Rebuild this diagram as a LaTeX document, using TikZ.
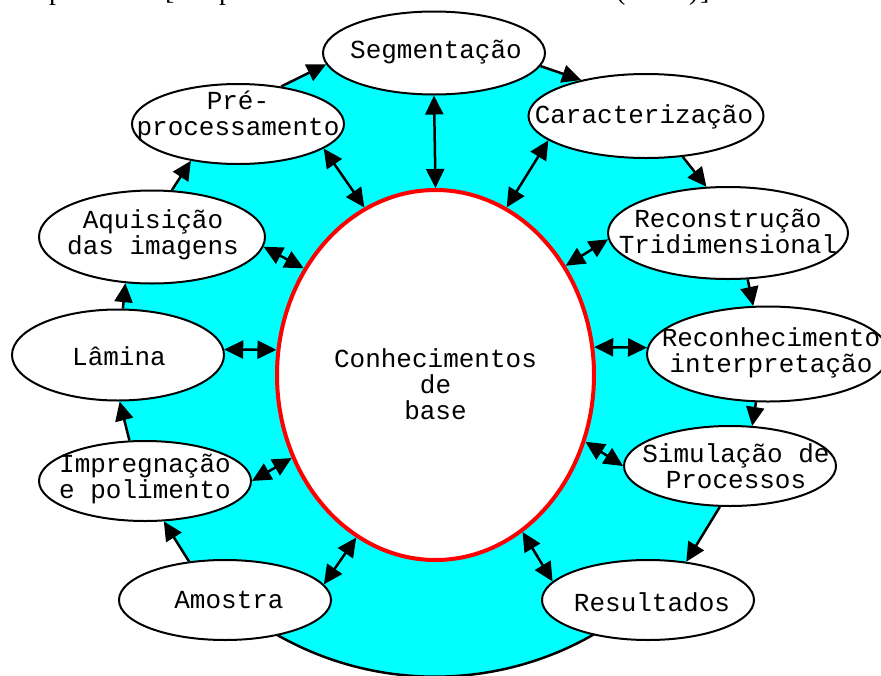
\documentclass[tikz,border=0pt]{standalone}
\usepackage{fontspec}
\newfontfamily\monof{Liberation Mono}
\newfontfamily\seriff{Liberation Serif}
\usetikzlibrary{shapes.geometric,arrows.meta,backgrounds}
\definecolor{ringfill}{RGB}{0,255,255}
\definecolor{corered}{RGB}{255,0,0}
\begin{document}
\begin{tikzpicture}[x=1pt,y=-1pt,
  stage/.style={ellipse,draw=black,fill=white,line width=2pt,inner sep=0pt},
  core/.style={ellipse,draw=corered,fill=white,line width=4pt,inner sep=0pt},
  lbl/.style={inner sep=0pt,font=\monof\fontsize{26}{26}\selectfont,align=center},
  flow/.style={line width=2.5pt,-{Triangle[length=19pt,width=18pt]}},
  link/.style={line width=2.5pt,{Triangle[length=19pt,width=18pt]}-{Triangle[length=19pt,width=18pt]}},
  frag/.style={font=\seriff\fontsize{28}{28}\selectfont,anchor=base west,inner sep=0pt}]
\useasboundingbox (0,0) rectangle (881,675);
\clip (0,0) rectangle (881,675);
% cut-off caption fragments at the top edge
\node[frag] (f1) at (49,-1) {p};
\node[frag] (f2) at (165,-1) {[};
\node[frag] (f3) at (219,-1) {p};
\node[frag] (f4) at (616,-1) {(};
\node[frag] (f5) at (689,-1) {)};
\node[frag] (f6) at (700,-1) {]};
% core
\node[core,minimum width=317pt,minimum height=370pt] (base) at (435.5,375) {};
\node[lbl] (base-t) at (435.5,384) {Conhecimentos\\de\\base};
% stages
\node[stage,minimum width=222pt,minimum height=83pt] (seg) at (434,53) {};
\node[stage,minimum width=212pt,minimum height=80pt] (pre) at (238,124) {};
\node[stage,minimum width=235pt,minimum height=84pt] (car) at (646,116) {};
\node[stage,minimum width=226pt,minimum height=93pt] (aq) at (152,237) {};
\node[stage,minimum width=240pt,minimum height=92pt] (rec3d) at (728,233) {};
\node[stage,minimum width=212pt,minimum height=91pt] (lam) at (118,355) {};
\node[stage,minimum width=242pt,minimum height=95pt] (reconh) at (768,354) {};
\node[stage,minimum width=212pt,minimum height=80pt] (sim) at (730,466) {};
\node[stage,minimum width=212pt,minimum height=80pt] (imp) at (145,481) {};
\node[stage,minimum width=212pt,minimum height=80pt] (amo) at (225,600) {};
\node[stage,minimum width=212pt,minimum height=80pt] (res) at (648,600) {};
% labels
\node[lbl] (seg-t) at (436,52) {Segmentação};
\node[lbl] (pre-t) at (238,116) {Pré-\\processamento};
\node[lbl] (car-t) at (644,117) {Caracterização};
\node[lbl] (aq-t) at (153,235) {Aquisição\\das imagens};
\node[lbl] (rec3d-t) at (728,231) {Reconstrução\\Tridimensional};
\node[lbl] (lam-t) at (119,356) {Lâmina};
\node[lbl] (reconh-t) at (771,353) {Reconhecimento\\interpretação};
\node[lbl] (sim-t) at (736,466) {Simulação de\\Processos};
\node[lbl] (imp-t) at (145,479) {Impregnação\\e polimento};
\node[lbl] (amo-t) at (229,600) {Amostra};
\node[lbl] (res-t) at (652,602) {Resultados};
% ring behind everything
\begin{pgfonlayer}{background}
  \fill[white] (0,0) rectangle (881,675);
  \fill[ringfill] (amo.133) -- (imp.-65) -- (imp.111) -- (lam.-88) -- (lam.84)
    -- (aq.-120) -- (aq.67) -- (pre.-142) -- (pre.41) -- (seg.186) -- (seg.-7)
    -- (car.151) -- (car.-48) -- (rec3d.115) -- (rec3d.-67) -- (reconh.107)
    -- (reconh.-104) -- (sim.61) -- (sim.-104) -- (res.45)
    -- (618,619) arc[start angle=55, end angle=125, radius=319] -- cycle;
  \draw[line width=2.5pt] (618,619) arc[start angle=55, end angle=125, radius=319];
\end{pgfonlayer}
% cycle
\draw[flow] (amo.133) -- (imp.-65);
\draw[flow] (imp.111) -- (lam.-88);
\draw[flow] (lam.84) -- (aq.-120);
\draw[flow] (aq.67) -- (pre.-142);
\draw[flow] (pre.41) -- (seg.186);
\draw[flow] (seg.-7) -- (car.151);
\draw[flow] (car.-48) -- (rec3d.115);
\draw[flow] (rec3d.-67) -- (reconh.107);
\draw[flow] (reconh.-104) -- (sim.61);
\draw[flow] (sim.-104) -- (res.45);
% links to the core
\draw[link] (seg.-90) -- (base.90);
\draw[link] (pre.-16) -- (base.113);
\draw[link] (car.194) -- (base.67);
\draw[link] (aq.-5) -- (base.141);
\draw[link] (rec3d.183) -- (base.40);
\draw[link] (lam.3) -- (base.171);
\draw[link] (reconh.177) -- (base.10);
\draw[link] (imp.0) -- (base.210);
\draw[link] (sim.180) -- (base.-24);
\draw[link] (amo.9) -- (base.-116);
\draw[link] (res.169) -- (base.-61);
\end{tikzpicture}
\end{document}
